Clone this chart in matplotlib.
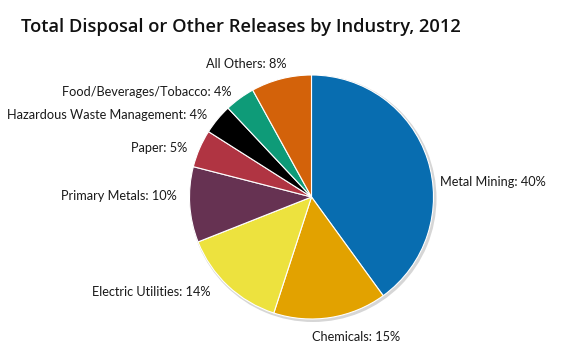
import matplotlib
matplotlib.use('Agg')
import matplotlib.pyplot as plt

plt.rcParams['font.family'] = ['Lato', 'DejaVu Sans']

categories = ['Metal Mining', 'Chemicals', 'Electric Utilities', 'Primary Metals',
              'Paper', 'Hazardous Waste Management', 'Food/Beverages/Tobacco', 'All Others']
shares = [40, 15, 14, 10, 5, 4, 4, 8]
colors = ['#086db0', '#e2a200', '#ede23e', '#663252',
          '#b03442', '#000000', '#0e9b78', '#d3620a']

# label baseline anchors in pixels (x, y from top) and alignment
label_pos = [(440, 186, 'left'), (312, 341, 'left'), (211, 296, 'right'),
             (177, 200, 'right'), (187, 152, 'right'), (207, 119, 'right'),
             (232, 96, 'right'), (246, 68, 'center')]

W, H = 580, 355
fig = plt.figure(figsize=(W / 100, H / 100), dpi=100)
ax = fig.add_axes([0, 0, 1, 1])
ax.axis('off')

cx, cy, r = 311.5, H - 197, 122

# faint shadow behind the pie
ax.pie([1], radius=r + 1.5, center=(cx + 1.5, cy - 1.5), colors=['#d6d6d6'],
       wedgeprops=dict(linewidth=0))
ax.pie(shares, radius=r, center=(cx, cy), colors=colors, startangle=90,
       counterclock=False, wedgeprops=dict(edgecolor='white', linewidth=0.8))
ax.set_xlim(0, W)
ax.set_ylim(0, H)
ax.set_aspect('equal')

for name, val, (x, y, ha) in zip(categories, shares, label_pos):
    ax.text(x, H - y, f'{name}: {val}%', ha=ha, va='baseline', fontsize=9.2,
            color='#1a1a1a')

ax.text(21, H - 32, 'Total Disposal or Other Releases by Industry, 2012',
        ha='left', va='baseline', fontsize=13.2, fontweight='semibold',
        family=['Open Sans', 'DejaVu Sans'], color='#111111')

fig.savefig('out.png', dpi=100)
